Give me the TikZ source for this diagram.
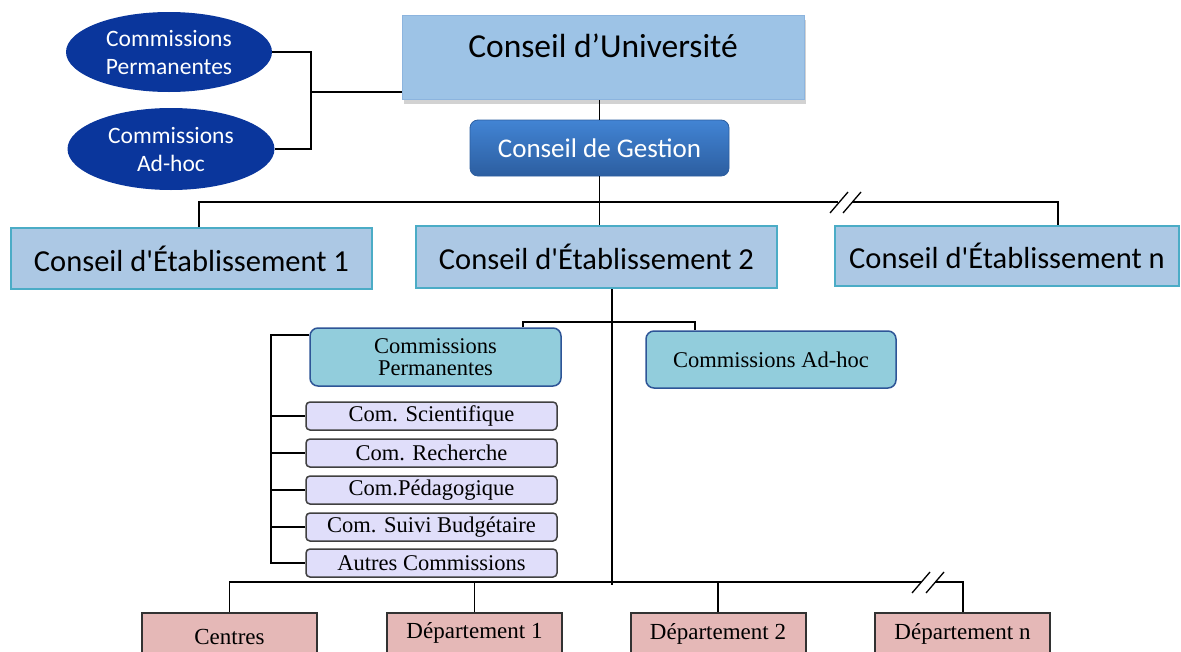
\documentclass[tikz,border=0pt]{standalone}
\usepackage{fontspec}
\setmainfont{Liberation Serif}
\newfontfamily\carl{Carlito}[Ligatures=TeXOff]
\usetikzlibrary{shapes.geometric,shadows,calc}
\definecolor{ellblue}{RGB}{10,54,156}
\definecolor{ubfill}{RGB}{157,195,230}
\definecolor{ubdraw}{RGB}{140,180,222}
\definecolor{gtop}{RGB}{66,132,212}
\definecolor{gbot}{RGB}{44,94,160}
\definecolor{efill}{RGB}{172,200,228}
\definecolor{edraw}{RGB}{75,172,198}
\definecolor{cfill}{RGB}{146,205,220}
\definecolor{cdraw}{RGB}{46,85,151}
\definecolor{sfill}{RGB}{224,222,250}
\definecolor{sdraw}{RGB}{64,64,64}
\definecolor{dfill}{RGB}{229,184,183}
\definecolor{ddraw}{RGB}{50,50,50}
\tikzset{
  conn/.style={draw=black, line width=1.6pt},
  ell/.style={ellipse, fill=ellblue, draw=none, text=white, inner sep=0pt, align=center,
    font=\carl\fontsize{23.5}{28}\selectfont},
  ubox/.style={rectangle, fill=ubfill, draw=ubdraw, line width=1pt, inner sep=0pt,
    drop shadow={opacity=0.35, shadow xshift=2pt, shadow yshift=-4pt},
    font=\carl\fontsize{33.5}{36}\selectfont},
  gbox/.style={rectangle, rounded corners=8pt, top color=gtop, bottom color=gbot, draw=gbot,
    line width=0.8pt, text=white, inner sep=0pt, font=\carl\fontsize{27}{30}\selectfont},
  ebox/.style={rectangle, fill=efill, draw=edraw, line width=2pt, inner sep=0pt,
    font=\carl\fontsize{30.5}{33}\selectfont},
  cbox/.style={rectangle, rounded corners=8pt, fill=cfill, draw=cdraw, line width=1.5pt,
    inner sep=0pt, align=center, font=\fontsize{22.5}{22}\selectfont},
  sbox/.style={rectangle, rounded corners=4pt, fill=sfill, draw=sdraw, line width=1.5pt,
    inner sep=0pt, minimum width=251pt, minimum height=28pt, font=\fontsize{22.5}{24}\selectfont},
  dbox/.style={rectangle, fill=dfill, draw=ddraw, line width=2pt, inner ysep=0pt,
    anchor=north, minimum width=175pt, text depth=40pt, font=\fontsize{23}{25}\selectfont},
  brk/.style={draw=black, line width=1.3pt}
}
\begin{document}
\begin{tikzpicture}[x=1pt,y=-1pt]
\useasboundingbox (0,0) rectangle (1181,651);
\clip (0,0) rectangle (1181,651);
\fill[white] (0,0) rectangle (1181,651);

% top ellipses
\node[ell, minimum width=206pt, minimum height=80pt] (ep) at (169,52) {Commissions\\Permanentes};
\node[ell, minimum width=207pt, minimum height=82pt] (ea) at (171,149) {Commissions\\Ad-hoc};

% top boxes
\node[ubox, anchor=north, minimum width=402pt, text height=42pt, text depth=42pt] (cu) at (603,15) {Conseil d’Université};
\node[gbox, minimum width=259pt, minimum height=56pt] (cg) at (599.5,148) {Conseil de Gestion};

\node[ebox, minimum width=361pt, minimum height=61pt] (e1) at (191.5,258.5) {Conseil d'Établissement 1};
\node[ebox, minimum width=361pt, minimum height=62pt] (e2) at (596.5,257) {Conseil d'Établissement 2};
\node[ebox, minimum width=344pt, minimum height=60pt] (en) at (1007,256) {Conseil d'Établissement n};

% commissions (lower)
\node[cbox, minimum width=251pt, minimum height=58pt] (cp) at (435.5,357) {Commissions\\Permanentes};
\node[cbox, minimum width=250pt, minimum height=57pt] (ca) at (771,359.5) {Commissions Ad-hoc};

\node[sbox] (s1) at (431.5,416) {Com. Scientifique};
\node[sbox] (s2) at (431.5,453) {Com. Recherche};
\node[sbox] (s3) at (431.5,490) {Com.Pédagogique};
\node[sbox] (s4) at (431.5,527) {Com. Suivi Budgétaire};
\node[sbox] (s5) at (431.5,563) {Autres Commissions};

% bottom boxes
\node[dbox, text height=31pt] (ce) at (229.5,612) {Centres};
\node[dbox, text height=25pt] (d1) at (474.5,612) {Département 1};
\node[dbox, text height=26pt] (d2) at (718,612) {Département 2};
\node[dbox, text height=26pt] (dn) at (962.5,612) {Département n};

% coordinates
\coordinate (bk) at (311,92);
\coordinate (t1) at (199,202);
\coordinate (t2) at (838,202);
\coordinate (t3) at (852,202);
\coordinate (t4) at (1058,202);
\coordinate (v) at (612,585);
\coordinate (m1) at (523,322);
\coordinate (m2) at (695,322);
\coordinate (lb) at (271,335);
\coordinate (b1) at (921,582);
\coordinate (b2) at (935,582);
\coordinate (b3) at (963,582);

% connectors
\draw[conn] (ep.east) -- (ep.east -| bk) -- (ea.east -| bk) -- (ea.east);
\draw[conn] (bk) -- (bk -| cu.west);
\draw[conn] (cg.north) -- (cg.north |- cu.south);
\draw[conn] (cg.south) -- (cg.south |- e2.north);
\draw[conn] (t1 |- e1.north) -- (t1) -- (t2);
\draw[conn] (t3) -- (t4) -- (t4 |- en.north);
\draw[brk] (830,213) -- (848,192);
\draw[brk] (843,213) -- (861,192);

\draw[conn] (v |- e2.south) -- (v);
\draw[conn] (m1 |- cp.north) -- (m1) -- (m2) -- (m2 |- ca.north);
\draw[conn] (lb -| cp.west) -- (lb) -- (lb |- s5.west) -- (s5.west);
\foreach \s in {s1,s2,s3,s4} \draw[conn] (\s.west -| lb) -- (\s.west);

\draw[conn] (ce.north) -- (ce.north |- b1) -- (b1);
\draw[conn] (d1.north) -- (d1.north |- b1);
\draw[conn] (d2.north) -- (d2.north |- b1);
\draw[conn] (b2) -- (b3) -- (b3 |- dn.north);
\draw[brk] (912,593) -- (930,572);
\draw[brk] (926,593) -- (944,572);
\end{tikzpicture}
\end{document}
